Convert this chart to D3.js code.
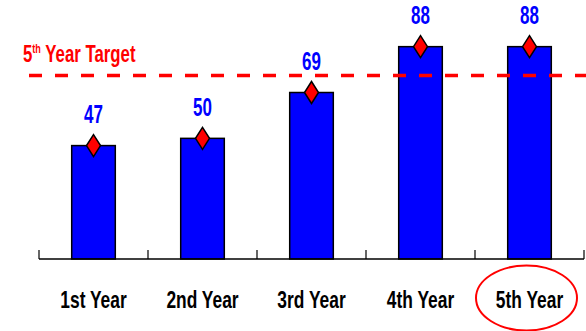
<!DOCTYPE html>
<html>
<head>
<meta charset="utf-8">
<script src="https://cdn.jsdelivr.net/npm/d3@7"></script>
<style>
  html, body { margin: 0; padding: 0; background: #fff; }
  svg { display: block; }
  text { font-family: "Liberation Sans", Arial, sans-serif; font-weight: bold; }
</style>
</head>
<body>
<svg id="chart" width="586" height="331"></svg>
<script>
// Yearly results against the 5th-year target
const categories = ["1st Year", "2nd Year", "3rd Year", "4th Year", "5th Year"];
const values = [47, 50, 69, 88, 88];
const target = 76;
const targetLabel = ["5", "th", " Year Target"];
const highlighted = "5th Year";

const W = 586, H = 331;
const svg = d3.select("#chart");

const x = d3.scaleBand()
  .domain(categories)
  .range([39, 584])
  .paddingInner(0.6)
  .paddingOuter(0.3);

const y = d3.scaleLinear()
  .domain([0, 100])
  .range([259, 17.7]);

const step = x.step();
const cx = d => x(d) + x.bandwidth() / 2;

// Condensed text helper: horizontal squeeze around the anchor point
function squeezed(sel, px, py, sx) {
  sel.attr("transform", `translate(${px},${py}) scale(${sx},1)`);
}

// Bars
svg.append("g").selectAll("rect")
  .data(categories)
  .join("rect")
  .attr("x", d => x(d))
  .attr("y", (d, i) => y(values[i]))
  .attr("width", x.bandwidth())
  .attr("height", (d, i) => y(0) - y(values[i]))
  .attr("fill", "#0000ff")
  .attr("stroke", "#000")
  .attr("stroke-width", 1.5);

// Baseline axis with upward ticks at category boundaries
const axisG = svg.append("g");
axisG.append("line")
  .attr("x1", x.range()[0]).attr("x2", x.range()[1])
  .attr("y1", y(0)).attr("y2", y(0))
  .attr("stroke", "#000").attr("stroke-width", 1.5);
const boundaries = categories.map(c => cx(c) - step / 2).concat([cx(categories[categories.length - 1]) + step / 2]);
axisG.selectAll("line.tick")
  .data(boundaries)
  .join("line")
  .attr("class", "tick")
  .attr("x1", d => d).attr("x2", d => d)
  .attr("y1", y(0)).attr("y2", y(0) - 9)
  .attr("stroke", "#000").attr("stroke-width", 1.2);

// Target line
svg.append("line")
  .attr("x1", 29).attr("x2", W)
  .attr("y1", y(target)).attr("y2", y(target))
  .attr("stroke", "#ff0000")
  .attr("stroke-width", 3.5)
  .attr("stroke-dasharray", "13,13");

// Target label with superscript ordinal
const tl = svg.append("text")
  .attr("fill", "#ff0000")
  .attr("font-size", 24);
squeezed(tl, 23, 62, 0.7);
tl.append("tspan").text(targetLabel[0]);
tl.append("tspan").attr("font-size", 13).attr("dy", -9).text(targetLabel[1]);
tl.append("tspan").attr("dy", 9).text(targetLabel[2]);

// Diamond markers at each value
svg.append("g").selectAll("path")
  .data(categories)
  .join("path")
  .attr("d", (d, i) => {
    const px = cx(d), py = y(values[i]);
    return `M${px},${py - 11}L${px + 7},${py}L${px},${py + 11}L${px - 7},${py}Z`;
  })
  .attr("fill", "#ff0000")
  .attr("stroke", "#000")
  .attr("stroke-width", 1.5);

// Value labels
svg.append("g").selectAll("text")
  .data(categories)
  .join("text")
  .attr("text-anchor", "middle")
  .attr("fill", "#0000ff")
  .attr("font-size", 25)
  .each(function (d, i) {
    squeezed(d3.select(this), cx(d), y(values[i]) - 22.5, 0.68);
  })
  .text((d, i) => values[i]);

// Category labels
svg.append("g").selectAll("text")
  .data(categories)
  .join("text")
  .attr("text-anchor", "middle")
  .attr("fill", "#000")
  .attr("font-size", 23.5)
  .each(function (d) {
    squeezed(d3.select(this), cx(d), 308, 0.74);
  })
  .text(d => d);

// Highlight ring around the final year
svg.append("ellipse")
  .attr("cx", cx(highlighted) - 3)
  .attr("cy", 298)
  .attr("rx", 50.5)
  .attr("ry", 32.5)
  .attr("fill", "none")
  .attr("stroke", "#ff0000")
  .attr("stroke-width", 2);
</script>
</body>
</html>
